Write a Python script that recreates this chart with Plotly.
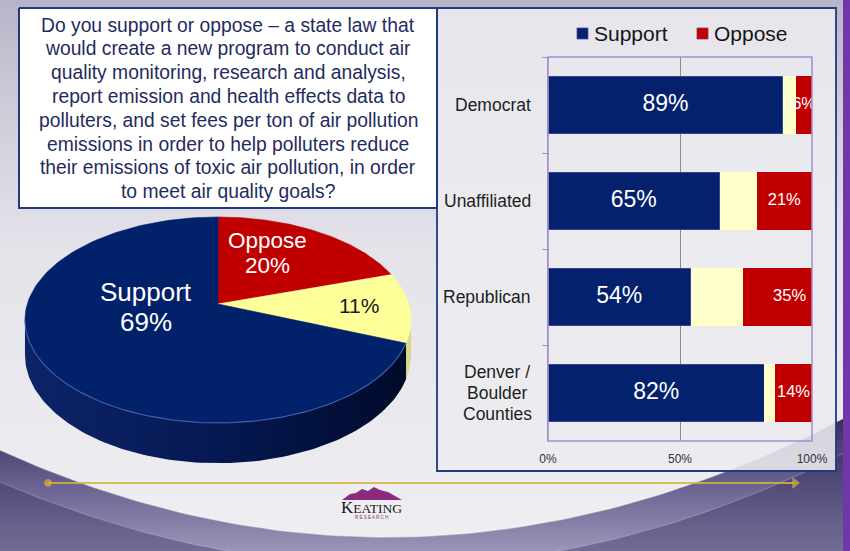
import numpy as np
import plotly.graph_objects as go

W, H = 850, 551

# ---- content -------------------------------------------------------------
question_lines = [
    "Do you support or oppose – a state law that",
    "would create a new program to conduct air",
    "quality monitoring, research and analysis,",
    "report emission and health effects data to",
    "polluters, and set fees per ton of air pollution",
    "emissions in order to help polluters reduce",
    "their emissions of toxic air pollution, in order",
    "to meet air quality goals?",
]

# overall result, clockwise from 12 o'clock
pie_names = ["Oppose", "Neutral", "Support"]
pie_values = [20, 11, 69]

# result by group
groups = ["Democrat", "Unaffiliated", "Republican", "Denver /<br>Boulder<br>Counties"]
support = [89, 65, 54, 82]
neutral = [5, 14, 20, 4]
oppose = [6, 21, 35, 14]
axis_ticks = [0, 50, 100]
axis_ticktext = ["0%", "50%", "100%"]

# ---- styling -------------------------------------------------------------
NAVY = "#03216c"
RED = "#c00000"
PALE = "#ffffcc"
PIE_COLORS = {"Oppose": "#c00000", "Neutral": "#ffff99", "Support": "#02216b"}
SIDE_COLORS = {"Oppose": "#7a0000", "Neutral": "#d9d98c"}
FONT = "Liberation Sans, Arial, sans-serif"
BORDER = "#1f3a7f"

fig = go.Figure()


def qbez(p0, p1, p2, n=90):
    t = np.linspace(0, 1, n)[:, None]
    p = (1 - t) ** 2 * np.array(p0) + 2 * (1 - t) * t * np.array(p1) + t ** 2 * np.array(p2)
    return p[:, 0], p[:, 1]


def poly(x, y, **kw):
    kw.setdefault("line", dict(width=0))
    fig.add_scatter(x=list(x), y=list(y), mode="lines", fill="toself",
                    hoverinfo="skip", showlegend=False, xaxis="x", yaxis="y", **kw)


def line(x, y, **kw):
    fig.add_scatter(x=list(x), y=list(y), mode="lines", hoverinfo="skip",
                    showlegend=False, xaxis="x", yaxis="y", **kw)


# ---- slide background ----------------------------------------------------
poly([0, W, W, 0], [0, 0, H, H],
     fillgradient=dict(type="vertical",
                       colorscale=[[0, "#efeff2"], [0.55, "#e4e3ea"],
                                   [0.8, "#cfccd9"], [1, "#b8b4c8"]]))

cx, cy = qbez((0, 450), (420, 640), (W, 415))
poly(np.r_[cx, W, 0], np.r_[cy, H, H],
     fillgradient=dict(type="vertical",
                       colorscale=[[0, "rgba(150,144,180,0.95)"], [0.45, "rgba(105,98,145,0.97)"],
                                   [1, "rgba(50,43,90,1)"]]))
line(cx, cy, line=dict(color="rgba(255,255,255,0.45)", width=1.5))

dx, dy = qbez((0, 482), (430, 665), (W, 450))
poly(np.r_[dx, W, 0], np.r_[dy, H, H], fillcolor="rgba(40,33,82,0.35)")
line(dx, dy, line=dict(color="rgba(255,255,255,0.18)", width=1.2))

# purple strip on the right edge
poly([843, W, W, 843], [0, 0, H, H], fillcolor="#6f37a8")

# ---- question box & chart frame -----------------------------------------
poly([437, 836, 836, 437, 437], [8, 8, 471, 471, 8], fillcolor="rgba(236,236,240,0.88)",
     line=dict(color=BORDER, width=1.8))
poly([19, 437, 437, 19, 19], [8, 8, 208, 208, 8], fillcolor="white",
     line=dict(color=BORDER, width=2))

# ---- perspective 3-D pie ------------------------------------------------
PCX, PCY = 218, 304          # pie centre on screen
PA, PB, PK = 190.7, 100.5, 0.155   # half width, half depth, perspective
DEPTH = 34


def rim(theta, r=1.0):
    t = np.radians(theta)
    u, w = r * np.sin(t), r * np.cos(t)
    d = 1 + PK * w
    return PCX + PA * u / d, PCY - PB * w / d


def drop(theta):
    return DEPTH / (1 + PK * np.cos(np.radians(theta)))


bounds = np.r_[0, np.cumsum(pie_values)] * 3.6
theta_r = np.degrees(np.arccos(-PK))
theta_l = 360 - theta_r

# visible side walls
for name, a0, a1 in zip(pie_names, bounds[:-1], bounds[1:]):
    lo, hi = max(a0, theta_r), min(a1, theta_l)
    if hi <= lo:
        continue
    th = np.linspace(lo, hi, 120)
    tx, ty = rim(th)
    bx, by = tx, ty + drop(th)
    xs = np.r_[tx, bx[::-1]]
    ys = np.r_[ty, by[::-1]]
    if name == "Support":
        poly(xs, ys, fillgradient=dict(type="horizontal",
                                       colorscale=[[0, "#0c2468"], [0.55, "#051750"], [1, "#000a2a"]]))
    else:
        poly(xs, ys, fillcolor=SIDE_COLORS[name])

# top face slices
for name, a0, a1 in zip(pie_names, bounds[:-1], bounds[1:]):
    th = np.linspace(a0, a1, 160)
    tx, ty = rim(th)
    col = PIE_COLORS[name]
    poly(np.r_[PCX, tx, PCX], np.r_[PCY, ty, PCY], fillcolor=col,
         line=dict(color=col, width=0.6))

# light rim along the front edge of the top face
th = np.linspace(bounds[2], theta_l, 150)
rx, ry = rim(th)
line(rx, ry, line=dict(color="rgba(80,110,190,0.7)", width=1.2))

# ---- gold rule and logo --------------------------------------------------
fig.add_scatter(x=[48, 795], y=[483, 483], mode="lines+markers",
                line=dict(color="rgba(214,180,64,0.85)", width=2.2),
                marker=dict(symbol=["circle", "triangle-right"], size=[7, 9], color="#d8b23e"),
                hoverinfo="skip", showlegend=False, xaxis="x", yaxis="y")
mx = [342, 350, 356, 362, 368, 374, 380, 388, 395, 402, 342]
my = [500, 494, 493, 489, 491, 487, 490, 492, 496, 500, 500]
poly(mx, my, fillcolor="#8a2b7c")

# ---- stacked bars ---------------------------------------------------------
bar_kw = dict(orientation="h", xaxis="x2", yaxis="y2", showlegend=False, hoverinfo="skip")
fig.add_bar(x=support, y=groups, name="Support", marker=dict(color=NAVY,
            line=dict(color="rgba(130,100,200,0.6)", width=0.8)), **bar_kw)
fig.add_bar(x=neutral, y=groups, name="Neutral", marker=dict(color=PALE, line=dict(width=0)), **bar_kw)
fig.add_bar(x=oppose, y=groups, name="Oppose", marker=dict(color=RED, line=dict(width=0)), **bar_kw)

sup_mid = [s / 2 for s in support]
opp_mid = [s + n + o / 2 for s, n, o in zip(support, neutral, oppose)]
fig.add_scatter(x=sup_mid, y=groups, mode="text", text=[f"{v}%" for v in support],
                textfont=dict(family=FONT, size=23, color="white"),
                xaxis="x2", yaxis="y2", hoverinfo="skip", showlegend=False, cliponaxis=True)
fig.add_scatter(x=opp_mid, y=groups, mode="text", text=[f"{v}%" for v in oppose],
                textfont=dict(family=FONT, size=16.5, color="white"),
                xaxis="x2", yaxis="y2", hoverinfo="skip", showlegend=False, cliponaxis=True)

# ---- annotations ---------------------------------------------------------
ann = []
for i, txt in enumerate(question_lines):
    ann.append(dict(x=228, y=25 + i * 23.8, xref="x", yref="y", text=txt, showarrow=False,
                    xanchor="center", yanchor="middle",
                    font=dict(family=FONT, size=19.3, color="#1f2b5e")))

# pie labels
pie_text = {n: v for n, v in zip(pie_names, pie_values)}
pie_ann = [
    dict(x=146, y=292, text="Support", font=dict(family=FONT, size=26, color="white")),
    dict(x=146, y=322, text=f"{pie_text['Support']}%", font=dict(family=FONT, size=26, color="white")),
    dict(x=267, y=240, text="Oppose", font=dict(family=FONT, size=22.5, color="white")),
    dict(x=267, y=265, text=f"{pie_text['Oppose']}%", font=dict(family=FONT, size=22.5, color="white")),
    dict(x=359, y=305, text=f"{pie_text['Neutral']}%", font=dict(family=FONT, size=21, color="#1a1a1a")),
]
for a in pie_ann:
    a.update(xref="x", yref="y", showarrow=False, xanchor="center", yanchor="middle")
ann += pie_ann

# category labels, one annotation per text line so the lines sit closer together
LINE_GAP = 20.7
CAT_X = 497
for g in groups:
    parts = g.split("<br>")
    n = len(parts)
    for j, p in enumerate(parts):
        ann.append(dict(x=CAT_X if n > 1 else 533, xref="x", y=g, yref="y2", text=p,
                        showarrow=False, xanchor="center" if n > 1 else "right",
                        yanchor="middle", yshift=((n - 1) / 2 - j) * LINE_GAP,
                        font=dict(family=FONT, size=17.5, color="#1e1e1e")))

# legend
ann.append(dict(x=592, y=33, xref="x", yref="y", text="Support", showarrow=False,
                xanchor="left", yanchor="middle", font=dict(family=FONT, size=21, color="#151515")))
ann.append(dict(x=712, y=33, xref="x", yref="y", text="Oppose", showarrow=False,
                xanchor="left", yanchor="middle", font=dict(family=FONT, size=21, color="#151515")))

# logo text
ann.append(dict(x=371, y=507, xref="x", yref="y", showarrow=False, xanchor="center", yanchor="middle",
                text="K<span style='font-size:13.5px'>EATING</span>",
                font=dict(family="Liberation Serif, Times New Roman, serif", size=17, color="#1a1a1a")))
ann.append(dict(x=371, y=517, xref="x", yref="y", showarrow=False, xanchor="center", yanchor="middle",
                text="R E S E A R C H", font=dict(family=FONT, size=4.5, color="#8a2b7c")))

shapes = [
    # white plot area
    dict(type="rect", xref="x2 domain", yref="y2 domain", x0=0, x1=1, y0=0, y1=1,
         fillcolor="white", line=dict(width=0), layer="below"),
    dict(type="rect", xref="x2 domain", yref="y2 domain", x0=0, x1=1, y0=0, y1=1,
         fillcolor="rgba(0,0,0,0)", line=dict(color="#a88bd2", width=1.5), layer="above"),
    # legend keys
    dict(type="rect", xref="x", yref="y", x0=577, x1=588, y0=28, y1=39, fillcolor=NAVY,
         line=dict(color="#5a4aa0", width=0.8)),
    dict(type="rect", xref="x", yref="y", x0=697, x1=708, y0=28, y1=39, fillcolor=RED,
         line=dict(color="#a03060", width=0.8)),
]

fig.update_layout(
    template="none",
    width=W, height=H, autosize=False,
    margin=dict(l=0, r=0, t=0, b=0, pad=0, autoexpand=False),
    paper_bgcolor="#ececf0", plot_bgcolor="rgba(0,0,0,0)",
    barmode="stack", bargap=0.4,
    showlegend=False,
    font=dict(family=FONT),
    xaxis=dict(domain=[0, 1], range=[0, W], visible=False, fixedrange=True, automargin=False),
    yaxis=dict(domain=[0, 1], range=[H, 0], visible=False, fixedrange=True, automargin=False),
    xaxis2=dict(domain=[548 / W, 812 / W], range=[0, 100], anchor="y2",
                tickvals=axis_ticks, ticktext=axis_ticktext,
                tickfont=dict(family=FONT, size=12, color="#333333"),
                showgrid=True, gridcolor="#8c8c8c", gridwidth=1, zeroline=False,
                ticks="outside", ticklen=7, tickcolor="rgba(0,0,0,0)", showline=False,
                fixedrange=True, automargin=False),
    yaxis2=dict(domain=[1 - 441 / H, 1 - 57 / H], anchor="x2",
                type="category", categoryorder="array", categoryarray=groups,
                autorange="reversed", showticklabels=False, showgrid=False,
                ticks="outside", tickson="boundaries", ticklen=5, tickcolor="#9a9a9a",
                showline=True, linecolor="#9a9a9a", linewidth=1, fixedrange=True,
                automargin=False),
    annotations=ann,
    shapes=shapes,
)

fig.write_html("out.html", config={"displayModeBar": False})
